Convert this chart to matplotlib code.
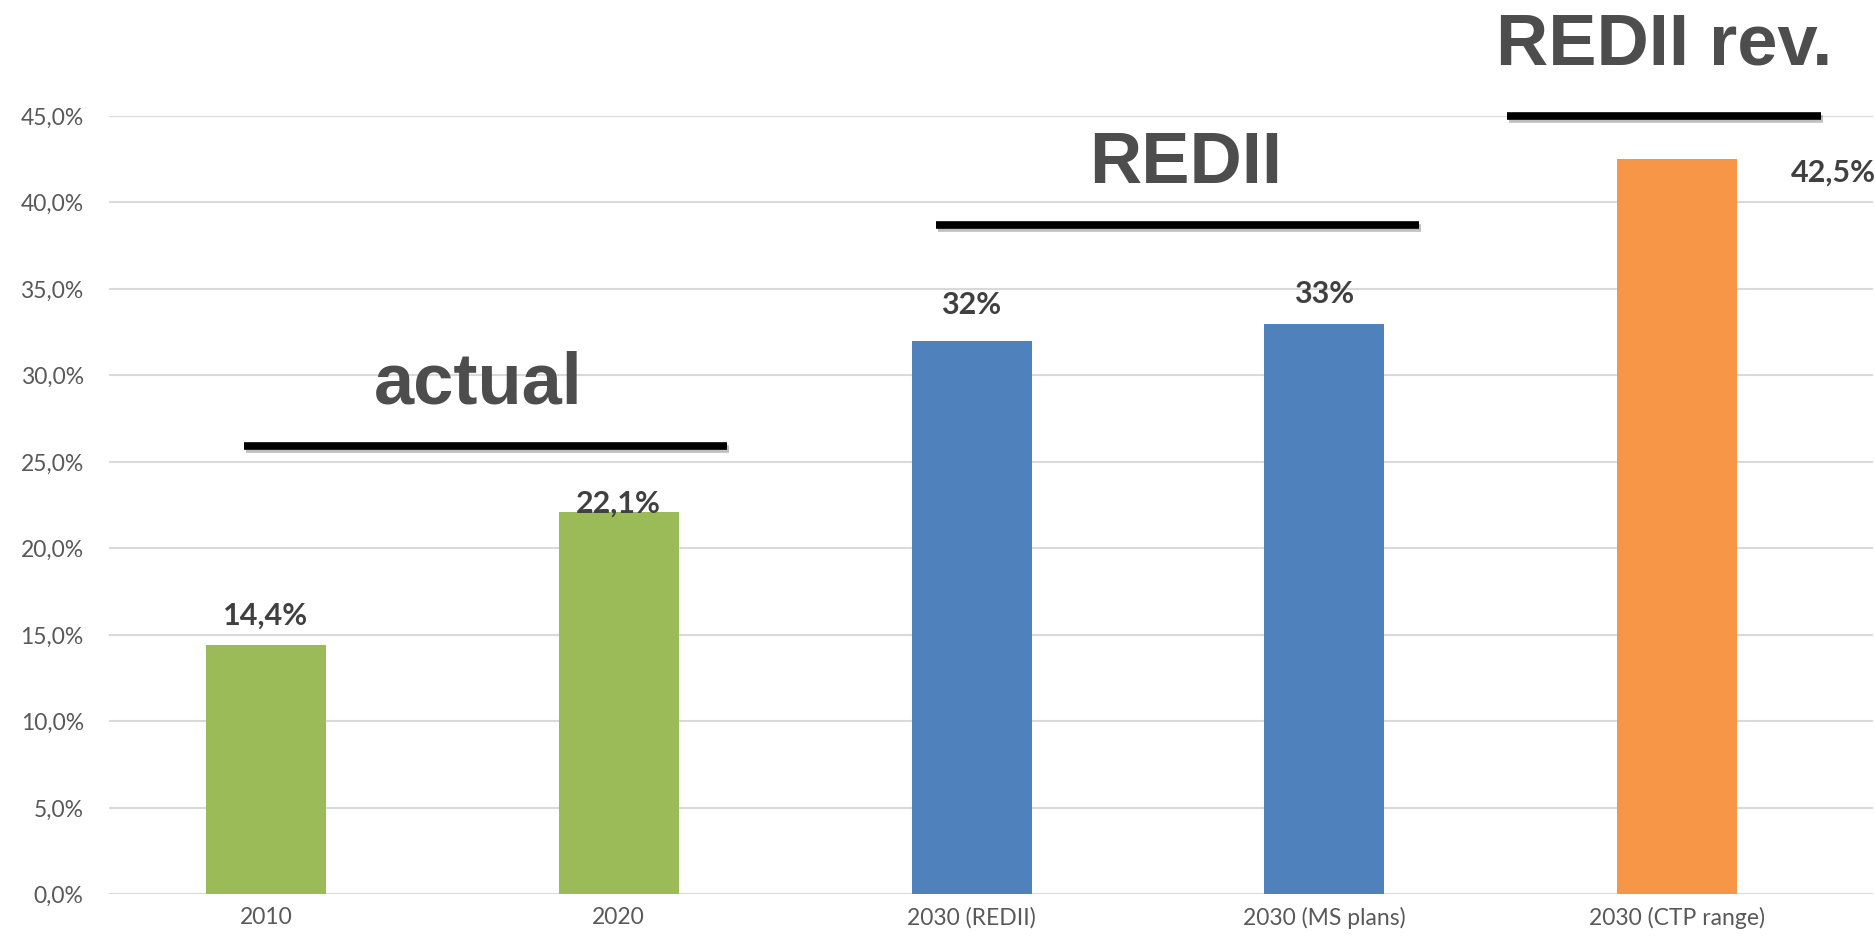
import matplotlib.pyplot as plt
import matplotlib.patheffects as pe
from matplotlib.ticker import FuncFormatter

categories = ["2010", "2020", "2030 (REDII)", "2030 (MS plans)", "2030 (CTP range)"]
values = [14.4, 22.1, 32.0, 33.0, 42.5]
value_labels = ["14,4%", "22,1%", "32%", "33%", "42,5%"]
bar_colors = ["#9BBB59", "#9BBB59", "#4F81BD", "#4F81BD", "#F79646"]

groups = ["actual", "REDII", "REDII rev."]
group_spans = [(-0.054, 1.315), (1.908, 3.275), (3.525, 4.414)]
group_line_y = [25.9, 38.7, 45.0]
group_text_xy = [(0.61, 29.5), (2.614, 42.2), (3.97, 49.1)]

fig = plt.figure(figsize=(18.75, 9.38), dpi=100)
ax = fig.add_axes([0.058, 0.0464, 0.941, 0.83])

x = [i + 0.008 for i in range(len(categories))]
ax.bar(x, values, width=0.34, color=bar_colors, zorder=2)

# value labels
label_font = dict(fontsize=22, fontweight="bold", color="#404040", family="Lato")
offsets = [1.7, 0.5, 2.1, 1.7]
for i in range(4):
    ax.text(x[i], values[i] + offsets[i], value_labels[i], ha="center", va="center", **label_font)
ax.text(4.45, 41.7, value_labels[4], ha="center", va="center", **label_font)

# group headings with black underlines
for name, (x0, x1), ly, (tx, ty) in zip(groups, group_spans, group_line_y, group_text_xy):
    ax.plot([x0, x1], [ly, ly], color="black", lw=5.5, solid_capstyle="butt", clip_on=False, zorder=3,
            path_effects=[pe.SimpleLineShadow(offset=(1.5, -2), alpha=0.25), pe.Normal()])
    ax.text(tx, ty, name, ha="center", va="center", fontsize=52, fontweight="bold",
            color="#4D4D4D", family="Liberation Sans", clip_on=False)

ax.set_xlim(-0.437, 4.563)
ax.set_ylim(0, 45)
ax.set_yticks([i * 5 for i in range(10)])
ax.yaxis.set_major_formatter(FuncFormatter(lambda v, p: f"{v:.1f}%".replace(".", ",")))
ax.set_xticks(x)
ax.set_xticklabels(categories)
ax.tick_params(length=0, labelsize=16.5, labelcolor="#595959", pad=9)
for lab in ax.get_xticklabels() + ax.get_yticklabels():
    lab.set_family("Lato")
ax.tick_params(axis="y", pad=18)
ax.grid(axis="y", color="#D9D9D9", lw=1.5, zorder=0)
ax.set_axisbelow(True)
for s in ax.spines.values():
    s.set_visible(False)

fig.savefig("out.png", dpi=100)
